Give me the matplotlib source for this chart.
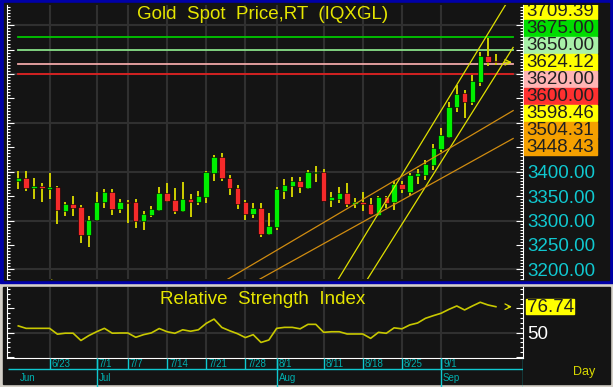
import matplotlib
matplotlib.use('Agg')
import matplotlib.pyplot as plt
from matplotlib.patches import Rectangle
from matplotlib.ticker import MultipleLocator
import numpy as np

plt.rcParams['font.family'] = ['Liberation Sans', 'DejaVu Sans']

# daily candles, Jun 17 .. Sep 10 (trading days)
opens = [3382, 3388, 3366, 3371, 3365, 3368, 3320, 3333, 3328, 3270,
         3301, 3337, 3359, 3323, 3339, 3338, 3299, 3311, 3322, 3356,
         3342, 3320, 3345, 3338, 3349, 3397, 3431, 3388, 3367, 3337,
         3313, 3325, 3272, 3287, 3361, 3371, 3381, 3367, 3397, 3399,
         3342, 3344, 3356, 3334, 3337, 3333, 3311, 3348, 3337, 3375,
         3358, 3391, 3394, 3414, 3446, 3472, 3532, 3562, 3542, 3583,
         3637, 3627]
highs = [3402, 3401, 3388, 3376, 3397, 3371, 3339, 3350, 3331, 3310,
         3358, 3365, 3365, 3345, 3343, 3345, 3320, 3330, 3368, 3376,
         3366, 3378, 3354, 3360, 3402, 3434, 3438, 3393, 3373, 3342,
         3335, 3335, 3315, 3369, 3386, 3390, 3390, 3404, 3412, 3406,
         3358, 3369, 3376, 3346, 3358, 3346, 3351, 3351, 3380, 3380,
         3398, 3405, 3423, 3457, 3490, 3543, 3578, 3567, 3598, 3646,
         3673, 3641]
lows = [3364, 3361, 3345, 3339, 3345, 3293, 3310, 3309, 3253, 3245,
        3300, 3325, 3311, 3315, 3296, 3285, 3281, 3307, 3320, 3337,
        3313, 3318, 3308, 3332, 3335, 3382, 3382, 3352, 3323, 3301,
        3305, 3266, 3270, 3281, 3344, 3349, 3356, 3364, 3378, 3340,
        3328, 3335, 3328, 3325, 3320, 3311, 3309, 3325, 3322, 3356,
        3350, 3375, 3384, 3404, 3440, 3469, 3523, 3511, 3537, 3576,
        3616, 3619]
closes = [3388, 3366, 3370, 3366, 3369, 3322, 3333, 3326, 3270, 3302,
          3338, 3358, 3323, 3338, 3335, 3299, 3313, 3323, 3356, 3341,
          3320, 3345, 3338, 3350, 3399, 3431, 3387, 3366, 3334, 3313,
          3325, 3272, 3289, 3364, 3373, 3381, 3368, 3399, 3399, 3341,
          3348, 3356, 3334, 3337, 3333, 3313, 3348, 3335, 3375, 3364,
          3393, 3398, 3416, 3449, 3475, 3533, 3560, 3543, 3586, 3636,
          3625, 3624.12]
rsi = [57, 54.5, 54.5, 54.5, 54.5, 48.5, 49.5, 49.5, 42, 47,
       51, 54.5, 49.5, 49.7, 49.7, 45.3, 48, 49.8, 54.3, 51,
       49.4, 53, 51.5, 53, 59.6, 64, 55.4, 52, 49, 45,
       48, 40, 42.5, 54.5, 55.5, 55.5, 54, 58.6, 58.6, 50.4,
       51, 51, 48.7, 48.7, 48.7, 44.2, 50.4, 49.4, 55, 54,
       58, 60, 64.8, 67.5, 70, 74, 77.5, 73.4, 77.5, 81.3,
       78.5, 76.74]

tick_idx = [4, 10, 14, 19, 24, 29, 33, 39, 44, 49, 54]
tick_lbl = ['6/23', '7/1', '7/7', '7/14', '7/21', '7/28', '8/1', '8/11', '8/18', '8/25', '9/1']
month_idx = [0, 10, 33, 54]
month_lbl = ['Jun', 'Jul', 'Aug', 'Sep']

levels = [3675, 3650, 3620, 3600]
level_colors = ['#00c800', '#88e088', '#f0a8a8', '#e02020']

# trend lines: value at last bar, slope per bar, drawn span
trend_last = [3709.39, 3598.46, 3504.31, 3448.43]
trend_slope = [26.3, 25.5, 9.47, 8.9]
trend_from = [40.5, 44.2, 26.5, 30.5]
trend_to = [62.6, 63.2, 63.2, 63.2]
trend_colors = ['#e0e000', '#e0e000', '#d08c10', '#d08c10']

box_text = ['3709.39', '3675.00', '3650.00', '3624.12', '3620.00',
            '3600.00', '3598.46', '3504.31', '3448.43']
box_colors = ['#ffff00', '#00dd00', '#a8f0a8', '#ffff00', '#ffb4b4',
              '#ff3030', '#ffff00', '#f5a000', '#f5a000']
price_ticks = [3200, 3250, 3300, 3350, 3400, 3450, 3500, 3550, 3600, 3650, 3700]
last_price = 3624.12
last_rsi = 76.74

W, H = 613, 387
DARK = '#141414'
GRID = '#303030'
CYAN = '#10c8d0'
fig = plt.figure(figsize=(W / 100, H / 100), dpi=100, facecolor='#d4d0c8')


def px_axes(x0, y0, x1, y1, **kw):
    return fig.add_axes([x0 / W, 1 - y1 / H, (x1 - x0) / W, (y1 - y0) / H], **kw)


# panel backgrounds
bg = px_axes(0, 0, W, H, zorder=-5)
bg.set_xlim(0, W); bg.set_ylim(H, 0); bg.axis('off')
bg.add_patch(Rectangle((0, 0), W, 283, color='#0000a8'))
bg.add_patch(Rectangle((4, 3), 605, 277, color=DARK))
bg.add_patch(Rectangle((3, 287), 607, 97, color=DARK))
bg.text(20, 275, 'No  Gaps', color='#a8a800', fontsize=7, va='center')
bg.text(573, 372, 'Day', color='#d8d800', fontsize=9, va='center')

xlim = (-1.44, 64.46)
x = np.arange(len(closes))

# ---- price panel
ax = px_axes(7, 5, 523, 279, facecolor=DARK)
ax.set_xlim(*xlim)
ax.set_ylim(3180.3, 3741.4)
ax.vlines(tick_idx, 3100, 3800, color=GRID, lw=1.5, zorder=0.5)
ax.hlines(price_ticks[::2], *xlim, color=GRID, lw=1.5, zorder=0.5)

for lv, col in zip(levels, level_colors):
    ax.plot([0, 63.2], [lv, lv], color=col, lw=1.3, zorder=1)

for last, sl, a, b, col in zip(trend_last, trend_slope, trend_from, trend_to, trend_colors):
    ax.plot([a, b], [last + sl * (a - 61), last + sl * (b - 61)], color=col, lw=0.9, zorder=5)

o = np.array(opens); c = np.array(closes)
up = c >= o
ax.vlines(x, lows, highs, color='#d0d000', lw=1.4, zorder=3)
ax.bar(x, np.maximum(np.abs(c - o), 3), bottom=np.minimum(o, c), width=0.7,
       color=np.where(up, '#00f000', '#f52a2a'), edgecolor='black', lw=0.4, zorder=4)
ax.annotate('', xy=(63.4, last_price), xytext=(61.7, last_price),
            arrowprops=dict(arrowstyle='->', color='#e0e000', lw=0.9), zorder=6)

ax.set_yticks(price_ticks, ['%.2f' % p if p <= 3400 else '' for p in price_ticks])
ax.yaxis.set_minor_locator(MultipleLocator(6.25))
ax.set_xticks([])
ax.tick_params(axis='y', which='both', direction='in', left=True, right=True,
               labelleft=False, labelright=True, colors='white', labelcolor=CYAN,
               labelsize=13.5, pad=3, width=0.8)
ax.tick_params(axis='y', which='major', length=5)
ax.tick_params(axis='y', which='minor', length=2.5)
for s in ['top', 'bottom']:
    ax.spines[s].set_visible(False)
for s in ['left', 'right']:
    ax.spines[s].set_color('white')
ax.text(0.496, 0.967, 'Gold  Spot  Price,RT  (IQXGL)', transform=ax.transAxes,
        ha='center', va='center', color='#e6e600', fontsize=13.5)

# stacked value boxes at the right of the price panel
lab = px_axes(523, 5, 609, 279, zorder=5)
lab.set_xlim(523, 609); lab.set_ylim(279, 5); lab.axis('off')
for k, (t, col) in enumerate(zip(box_text, box_colors)):
    yc = 11 + 17 * k
    lab.add_patch(Rectangle((524, yc - 8), 73, 16, color=col))
    lab.text(526, yc + 0.5, t, ha='left', va='center', color='#202020',
             fontsize=13.5, clip_on=True)

# ---- RSI panel
ar = px_axes(7, 287, 523, 358, facecolor=DARK)
ar.set_xlim(*xlim)
ar.set_ylim(24, 97)
ar.vlines(tick_idx, 0, 100, color=GRID, lw=1.5, zorder=0.5)
ar.hlines([50], *xlim, color=GRID, lw=1.5, zorder=0.5)
ar.plot(x, rsi, color='#c8c800', lw=1.2, zorder=3)
ar.annotate('', xy=(63.4, last_rsi), xytext=(62.2, last_rsi),
            arrowprops=dict(arrowstyle='->', color='#e0e000', lw=0.9))
ar.set_yticks([25, 50, 75], ['', '50', ''])
ar.yaxis.set_minor_locator(MultipleLocator(5))
ar.set_xticks([])
ar.tick_params(axis='y', which='both', direction='in', left=True, right=True,
               labelleft=False, labelright=True, colors='white', labelcolor='white',
               labelsize=13.5, pad=3, width=0.8)
ar.tick_params(axis='y', which='major', length=5)
ar.tick_params(axis='y', which='minor', length=2.5)
ar.spines['top'].set_visible(False)
for s in ['left', 'right', 'bottom']:
    ar.spines[s].set_color('white')
ar.text(0.496, 0.83, 'Relative  Strength  Index', transform=ar.transAxes,
        ha='center', va='center', color='#e6e600', fontsize=13.5)

rl = px_axes(523, 287, 609, 358, zorder=5)
rl.set_xlim(523, 609); rl.set_ylim(358, 287); rl.axis('off')
rl.add_patch(Rectangle((526, 299), 48, 15, color='#ffff00'))
rl.text(527, 307, '%.2f' % last_rsi, ha='left', va='center', color='#202020', fontsize=13.5)

# ---- date band
ad = px_axes(7, 358, 523, 387)
ad.set_xlim(*xlim); ad.set_ylim(29, 0); ad.axis('off')
ad.vlines(tick_idx, 0, 11, color=CYAN, lw=1)
ad.hlines(11, xlim[0] + 0.15, xlim[1], color=CYAN, lw=1)
ad.vlines([m for m in month_idx if m > 0] + [xlim[1] - 0.05], 0, 29, color=CYAN, lw=1)
for i, t in zip(tick_idx, tick_lbl):
    ad.text(i + 0.25, 6, t, color='#00b0b0', fontsize=7, va='center', ha='left')
for i, t in zip(month_idx, month_lbl):
    ad.text(i + 0.25, 20, t, color='#00b0b0', fontsize=7, va='center', ha='left')

fig.savefig('out.png', dpi=100, facecolor=fig.get_facecolor())
